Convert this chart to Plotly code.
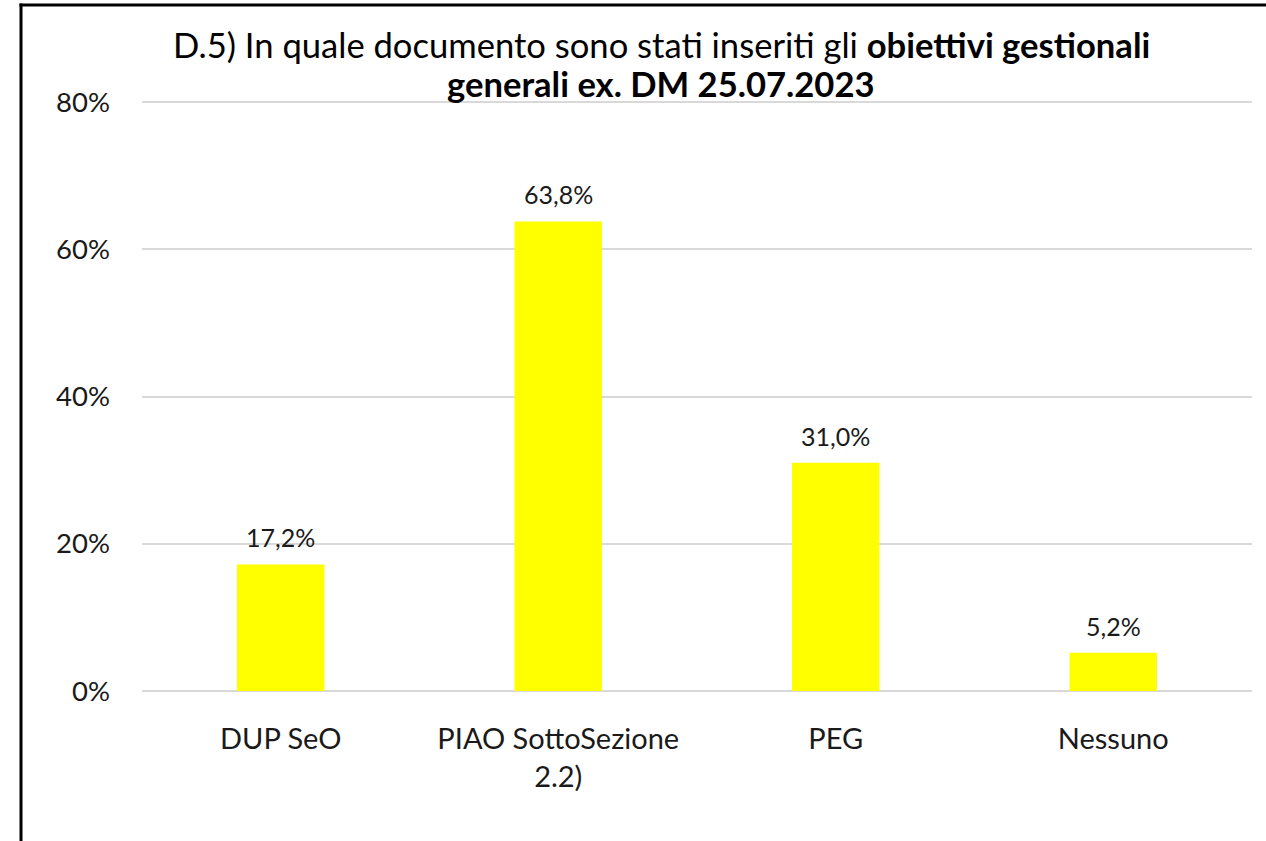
import plotly.graph_objects as go

categories = ["DUP SeO", "PIAO SottoSezione<br>2.2)", "PEG", "Nessuno"]
values = [0.172, 0.638, 0.310, 0.052]
labels = ["17,2%", "63,8%", "31,0%", "5,2%"]
tick_vals = [0, 0.2, 0.4, 0.6, 0.8]

FONT = "Lato"
TXT = "#1a1a1a"
W, H = 1266, 841
L, R, T, B = 142, 14, 100, 150
pw, ph = W - L - R, H - T - B

def px_x(px):
    return (px - L) / pw

def px_y(py):
    return (H - B - py) / ph

fig = go.Figure(go.Bar(
    x=categories, y=values,
    marker=dict(color="#FFFF00", line=dict(width=0)),
    width=0.315,
    hoverinfo="x+y",
))

annotations = [
    dict(x=c, y=v, text=t, xref="x", yref="y", showarrow=False,
         xanchor="center", yanchor="bottom", yshift=10,
         font=dict(family=FONT, size=25, color=TXT))
    for c, v, t in zip(categories, values, labels)
]
annotations += [
    dict(text="D.5) In quale documento sono stati inseriti gli <b>obiettivi gestionali</b>",
         xref="paper", yref="paper", x=px_x(661), y=px_y(45),
         xanchor="center", yanchor="middle", showarrow=False,
         font=dict(family=FONT, size=34.6, color="black")),
    dict(text="<b>generali ex. DM 25.07.2023</b>",
         xref="paper", yref="paper", x=px_x(661), y=px_y(83),
         xanchor="center", yanchor="middle", showarrow=False,
         font=dict(family=FONT, size=34.6, color="black")),
]

fig.update_layout(
    width=W, height=H,
    margin=dict(l=L, r=R, t=T, b=B, autoexpand=False),
    paper_bgcolor="white", plot_bgcolor="white",
    separators=",.",
    showlegend=False,
    font=dict(family=FONT, size=25, color=TXT),
    xaxis=dict(showgrid=False, showline=False, ticks="",
               tickfont=dict(size=29, color=TXT), ticklabelstandoff=28),
    yaxis=dict(range=[0, 0.803], tickvals=tick_vals, tickformat=".0%",
               showgrid=True, gridcolor="#d9d9d9", gridwidth=2,
               zeroline=True, zerolinecolor="#d9d9d9", zerolinewidth=2,
               showline=False, ticks="", ticklabelstandoff=31,
               tickfont=dict(size=27.5, color=TXT)),
    annotations=annotations,
    shapes=[
        dict(type="line", xref="paper", yref="paper",
             x0=px_x(21), x1=px_x(21), y0=px_y(3.5), y1=px_y(845),
             line=dict(color="black", width=3)),
        dict(type="line", xref="paper", yref="paper",
             x0=px_x(19.5), x1=px_x(1270), y0=px_y(5), y1=px_y(5),
             line=dict(color="black", width=3)),
    ],
)

fig.write_html(
    "out.html",
    config={"displayModeBar": False},
    post_script="document.body.style.margin='0';document.body.style.overflow='hidden';document.documentElement.style.overflow='hidden';",
)
